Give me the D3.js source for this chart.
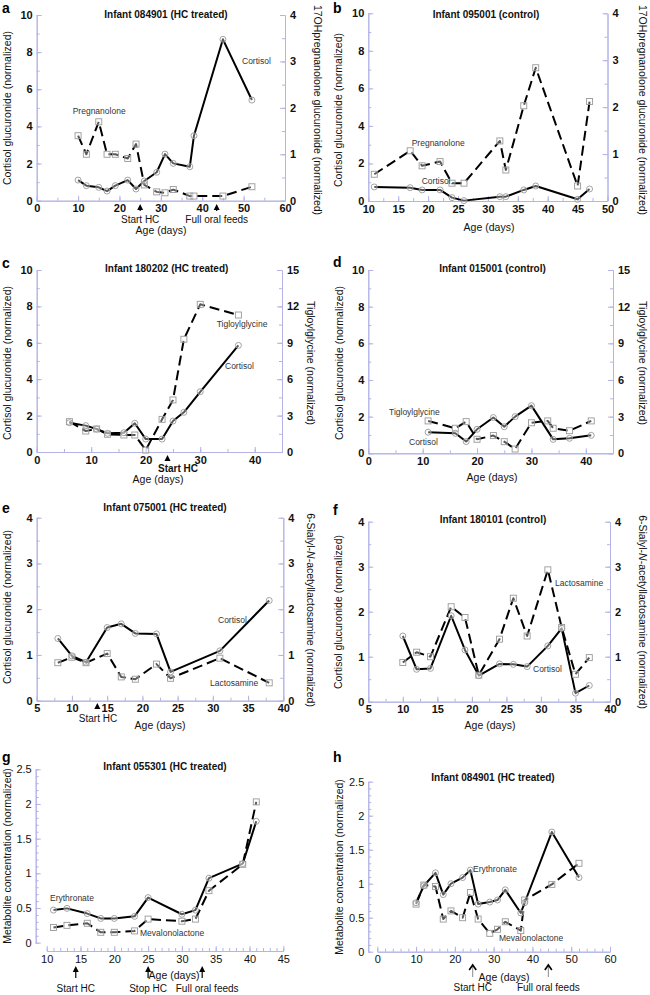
<!DOCTYPE html>
<html><head><meta charset="utf-8">
<script src="https://cdn.jsdelivr.net/npm/d3@7/dist/d3.min.js"></script>
<style>
html,body{margin:0;padding:0;background:#fff;}
svg{display:block;font-family:"Liberation Sans",Arial,Helvetica,sans-serif;}
</style></head>
<body>
<svg id="chart" width="650" height="995"></svg>
<script>
// ---------- DATA ----------
// Panel a: Infant 084901 (HC treated)
const aDays = [10,12,15,17,19,22,24,26,29,31,33,37,38,45,52];
const aCortisol = [1.11,0.81,0.72,0.52,0.81,1.11,0.63,1.06,1.53,2.51,2.01,1.83,3.50,8.69,5.42];
const aPregnanolone = [1.40,1.00,1.70,1.00,1.00,0.91,1.22,0.34,0.19,0.17,0.24,0.10,0.10,0.10,0.30];
const aEventDays = [25,43.5];
const aEventLabels = ["Start HC","Full oral feeds"];

// Panel b: Infant 095001 (control)
const bDays = [11,17,19,22,24,26,32,33,36,38,45,47];
const bCortisol = [0.75,0.71,0.59,0.59,0.18,0.02,0.23,0.23,0.59,0.80,0.09,0.64];
const bPregnanolone = [0.57,1.07,0.75,0.84,0.38,0.38,1.28,0.66,2.03,2.84,0.32,2.12];

// Panel c: Infant 180202 (HC treated)
const cDays = [6,9,11,13,16,18,20,23,25,27,30,37];
const cCortisol = [1.61,1.45,1.26,1.03,1.06,1.58,0.71,0.71,1.70,2.18,3.31,5.86];
const cTigloylglycine = [2.50,1.73,1.90,1.46,1.40,1.40,0.16,2.69,4.29,9.29,12.17,11.29];
const cEventDays = [24];
const cEventLabels = ["Start HC"];

// Panel d: Infant 015001 (control)
const dCortisolDays = [11,16,18,20,23,25,27,30,34,37,41];
const dCortisol = [1.15,1.09,0.64,1.31,1.95,1.45,2.00,2.60,0.76,0.82,0.98];
const dTigloylDays = [11,16,18,20,23,25,27,30,33,34,37,41];
const dTigloylglycine = [2.65,2.05,2.59,1.15,1.45,0.95,0.35,2.50,2.65,2.05,1.85,2.65];

// Panel e: Infant 075001 (HC treated)
const eDays = [8,10,12,15,17,19,22,24,31,38];
const eCortisol = [1.36,0.98,0.84,1.60,1.68,1.47,1.46,0.63,1.09,2.19];
const eLactosamine = [0.83,0.95,0.83,1.03,0.52,0.47,0.80,0.49,0.93,0.39];
const eEventDays = [13.6];
const eEventLabels = ["Start HC"];

// Panel f: Infant 180101 (control)
const fDays = [10,12,14,17,19,21,24,26,28,31,33,35,37];
const fCortisol = [1.46,0.72,0.74,1.91,1.15,0.58,0.84,0.83,0.78,1.24,1.63,0.19,0.36];
const fLactosamine = [0.87,1.10,1.00,2.11,1.87,0.59,1.39,2.30,1.46,2.93,1.65,0.61,0.98];

// Panel g: Infant 055301 (HC treated)
const gDays = [11,13,16,18,20,23,25,30,32,34,39,41];
const gErythronate = [0.47,0.495,0.42,0.35,0.35,0.38,0.65,0.41,0.47,0.93,1.14,1.75];
const gMevalonolactone = [0.22,0.25,0.28,0.15,0.15,0.17,0.34,0.31,0.34,0.75,1.13,2.03];
const gEventDays = [14.3,25,33];
const gEventLabels = ["Start HC","Stop HC","Full oral feeds"];

// Panel h: Infant 084901 (HC treated)
const hDays = [10,12,15,17,19,22,24,26,29,31,33,37,38,45,52];
const hErythronate = [0.72,0.97,1.16,0.84,1.00,1.09,1.20,0.70,0.73,0.76,0.91,0.57,0.72,1.76,1.09];
const hMevalonolactone = [0.70,0.98,0.96,0.48,0.60,0.50,0.87,0.48,0.27,0.33,0.44,0.31,0.76,0.99,1.30];
const hEventDays = [24.6,44.1];
const hEventLabels = ["Start HC","Full oral feeds"];

// ---------- LAYOUT ----------
const AXIS = "#b4b4e6";
const svg = d3.select("#chart");

const CORT = "Cortisol glucuronide (normalized)";
const PREG = "17OHpregnanolone glucuronide (normalized)";
const TIG = "Tigloylglycine (normalized)";
const MET = "Metabolite concentration (normalized)";

const panels = [
 {letter:"a", letterPos:[2,13], title:"Infant 084901 (HC treated)", titlePos:[166,18],
  xDomain:[0,60], xRange:[36.7,285], xMajor:10, xMinor:5,
  yDomain:[0,10], yRange:[200.7,15], yMajor:2, yMinor:1,
  yRDomain:[0,4], yRMajor:1, yRMinor:0.5,
  yLabel:CORT, yLabelPos:[7,108], yRLabel:PREG, yRLabelPos:[318,110],
  xLabelPos:[161,234], bold:true,
  series:[{days:aDays, vals:aPregnanolone, right:true, dash:true},
          {days:aDays, vals:aCortisol, right:false, dash:false}],
  labels:[{t:"Pregnanolone", p:[72.7,114]},{t:"Cortisol", p:[242,64]}],
  events:{days:aEventDays, labels:aEventLabels, tip:204, end:211, ly:222.5, dx:[0,0], style:"filled", bold:false}},
 {letter:"b", letterPos:[333,13], title:"Infant 095001 (control)", titlePos:[486,18],
  xDomain:[10,50], xRange:[368.3,607.5], xMajor:5, xMinor:2.5,
  yDomain:[0,10], yRange:[201,13.3], yMajor:2, yMinor:1,
  yRDomain:[0,4], yRMajor:1, yRMinor:0.5,
  yLabel:CORT, yLabelPos:[338,110], yRLabel:PREG, yRLabelPos:[643,110],
  xLabelPos:[489,231], bold:true,
  series:[{days:bDays, vals:bPregnanolone, right:true, dash:true},
          {days:bDays, vals:bCortisol, right:false, dash:false}],
  labels:[{t:"Pregnanolone", p:[411.7,146]},{t:"Cortisol", p:[421.7,184]}]},
 {letter:"c", letterPos:[2,268], title:"Infant 180202 (HC treated)", titlePos:[166.7,272],
  xDomain:[0,45], xRange:[36.7,282], xMajor:10, xMinor:5, xLast:40,
  yDomain:[0,10], yRange:[452,270], yMajor:2, yMinor:1,
  yRDomain:[0,15], yRMajor:3, yRMinor:1.5,
  yLabel:CORT, yLabelPos:[7,363], yRLabel:TIG, yRLabelPos:[311,363],
  xLabelPos:[158,482.5], bold:true,
  series:[{days:cDays, vals:cTigloylglycine, right:true, dash:true},
          {days:cDays, vals:cCortisol, right:false, dash:false}],
  labels:[{t:"Tigloylglycine", p:[216.7,327]},{t:"Cortisol", p:[225,369]}],
  events:{days:cEventDays, labels:cEventLabels, tip:455, end:460, ly:471.5, dx:[10.5], style:"filled", bold:true}},
 {letter:"d", letterPos:[333,267], title:"Infant 015001 (control)", titlePos:[492.5,272],
  xDomain:[0,45], xRange:[368.3,613], xMajor:10, xMinor:5, xLast:40,
  yDomain:[0,10], yRange:[453.3,270], yMajor:2, yMinor:1,
  yRDomain:[0,15], yRMajor:3, yRMinor:1.5,
  yLabel:CORT, yLabelPos:[339,363], yRLabel:TIG, yRLabelPos:[643,363],
  xLabelPos:[492,481], bold:true,
  series:[{days:dTigloylDays, vals:dTigloylglycine, right:true, dash:true},
          {days:dCortisolDays, vals:dCortisol, right:false, dash:false}],
  labels:[{t:"Tigloylglycine", p:[389,415]},{t:"Cortisol", p:[409,445]}]},
 {letter:"e", letterPos:[2,513], title:"Infant 075001 (HC treated)", titlePos:[165,511],
  xDomain:[5,40], xRange:[36.7,283.3], xMajor:5, xMinor:2.5,
  yDomain:[0,4], yRange:[700.7,517.7], yMajor:1, yMinor:0.5,
  yRDomain:[0,4], yRMajor:1, yRMinor:0.5,
  yLabel:CORT, yLabelPos:[7,607], yRLabel:"SIAL", yRLabelPos:[311,610],
  xLabelPos:[160,729], bold:true,
  series:[{days:eDays, vals:eLactosamine, right:true, dash:true},
          {days:eDays, vals:eCortisol, right:false, dash:false}],
  labels:[{t:"Cortisol", p:[218,623]},{t:"Lactosamine", p:[210,686]}],
  events:{days:eEventDays, labels:eEventLabels, tip:703, end:709, ly:722, dx:[0.7], style:"filled", bold:false}},
 {letter:"f", letterPos:[333,515], title:"Infant 180101 (control)", titlePos:[493,523],
  xDomain:[5,40], xRange:[368.3,610], xMajor:5, xMinor:2.5,
  yDomain:[0,4], yRange:[701.7,521.7], yMajor:1, yMinor:0.5,
  yRDomain:[0,4], yRMajor:1, yRMinor:0.5,
  yLabel:CORT, yLabelPos:[338,612], yRLabel:"SIAL", yRLabelPos:[643,612],
  xLabelPos:[490,729], bold:true,
  series:[{days:fDays, vals:fLactosamine, right:true, dash:true},
          {days:fDays, vals:fCortisol, right:false, dash:false}],
  labels:[{t:"Lactosamine", p:[555,586]},{t:"Cortisol", p:[533,672]}]},
 {letter:"g", letterPos:[2,762], title:"Infant 055301 (HC treated)", titlePos:[165,770],
  xDomain:[10,45], xRange:[46.7,283.3], xMajor:5, xMinor:1, xAxisY:951, yAxisX:35.7,
  yDomain:[0,2.5], yRange:[942.7,769.3], yMajor:0.5, yMinor:0.1,
  yLabel:MET, yLabelPos:[7,856],
  xLabelPos:[174,979], bold:false,
  series:[{days:gDays, vals:gMevalonolactone, right:false, dash:true},
          {days:gDays, vals:gErythronate, right:false, dash:false}],
  labels:[{t:"Erythronate", p:[50,901]},{t:"Mevalonolactone", p:[140,936]}],
  events:{days:gEventDays, labels:gEventLabels, tip:966, end:978, ly:992, dx:[0,0,5], style:"filled", bold:false}},
 {letter:"h", letterPos:[333,762], title:"Infant 084901 (HC treated)", titlePos:[493,781],
  xDomain:[0,60], xRange:[377.3,610], xMajor:10, xMinor:2, xAxisY:951.7, yAxisX:368.3,
  yDomain:[0,2.5], yRange:[951.7,781.7], yMajor:0.5, yMinor:0.1,
  yLabel:MET, yLabelPos:[339,867],
  xLabelPos:[504,981], bold:false,
  series:[{days:hDays, vals:hMevalonolactone, right:false, dash:true},
          {days:hDays, vals:hErythronate, right:false, dash:false}],
  labels:[{t:"Erythronate", p:[473,872]},{t:"Mevalonolactone", p:[499,941]}],
  events:{days:hEventDays, labels:hEventLabels, tip:965, end:977, ly:991, dx:[0,0], style:"open", bold:false}}
];

function steps(lo, hi, step){
  const n = Math.round((hi-lo)/step);
  return d3.range(n+1).map(i => +(lo + i*step).toFixed(4));
}

function styleAxis(sel, p){
  sel.attr("font-family", null).attr("font-size", null);
  sel.select(".domain").attr("stroke", AXIS).attr("stroke-width", 1);
  sel.selectAll(".tick line").attr("stroke", AXIS).attr("stroke-width", 1);
  sel.selectAll(".tick text").attr("fill", "#111")
     .attr("font-size", 11)
     .attr("font-weight", p.bold ? "bold" : "normal");
}

function drawPanel(p){
  const g = svg.append("g");
  const x = d3.scaleLinear().domain(p.xDomain).range(p.xRange);
  const y = d3.scaleLinear().domain(p.yDomain).range(p.yRange);
  const yR = p.yRDomain ? d3.scaleLinear().domain(p.yRDomain).range(p.yRange) : null;
  const xAxisY = p.xAxisY !== undefined ? p.xAxisY : p.yRange[0];
  const yAxisX = p.yAxisX !== undefined ? p.yAxisX : p.xRange[0];
  const xMaxLabel = p.xLast !== undefined ? p.xLast : p.xDomain[1];

  // minor ticks
  g.append("g").attr("transform", `translate(0,${xAxisY})`)
    .call(d3.axisBottom(x).tickValues(steps(p.xDomain[0], p.xDomain[1], p.xMinor)).tickFormat("").tickSize(-3).tickSizeOuter(0))
    .call(s => styleAxis(s, p));
  g.append("g").attr("transform", `translate(${yAxisX},0)`)
    .call(d3.axisLeft(y).tickValues(steps(p.yDomain[0], p.yDomain[1], p.yMinor)).tickFormat("").tickSize(-3).tickSizeOuter(0))
    .call(s => styleAxis(s, p));
  if (yR) {
    g.append("g").attr("transform", `translate(${p.xRange[1]},0)`)
      .call(d3.axisRight(yR).tickValues(steps(p.yRDomain[0], p.yRDomain[1], p.yRMinor)).tickFormat("").tickSize(-3).tickSizeOuter(0))
      .call(s => styleAxis(s, p));
  }
  // major ticks
  g.append("g").attr("transform", `translate(0,${xAxisY})`)
    .call(d3.axisBottom(x).tickValues(steps(p.xDomain[0], xMaxLabel, p.xMajor)).tickFormat(d3.format("d")).tickSize(-5).tickSizeOuter(0).tickPadding(4))
    .call(s => styleAxis(s, p));
  g.append("g").attr("transform", `translate(${yAxisX},0)`)
    .call(d3.axisLeft(y).tickValues(steps(p.yDomain[0], p.yDomain[1], p.yMajor)).tickFormat(d3.format("")).tickSize(-5).tickSizeOuter(0).tickPadding(4))
    .call(s => styleAxis(s, p));
  if (yR) {
    g.append("g").attr("transform", `translate(${p.xRange[1]},0)`)
      .call(d3.axisRight(yR).tickValues(steps(p.yRDomain[0], p.yRDomain[1], p.yRMajor)).tickFormat(d3.format("d")).tickSize(-5).tickSizeOuter(0).tickPadding(5))
      .call(s => styleAxis(s, p));
  }

  // series lines
  p.series.forEach(s => {
    const sc = s.right ? yR : y;
    const pts = s.days.map((d,i) => [d, s.vals[i]]);
    g.append("path").datum(pts)
      .attr("fill","none").attr("stroke","#000").attr("stroke-width",2)
      .attr("stroke-linejoin","round")
      .attr("stroke-dasharray", s.dash ? "10,5" : null)
      .attr("d", d3.line().x(d => x(d[0])).y(d => sc(d[1])));
  });
  // markers
  p.series.forEach(s => {
    const sc = s.right ? yR : y;
    const pts = s.days.map((d,i) => [d, s.vals[i]]);
    if (s.dash) {
      g.selectAll(null).data(pts).enter().append("rect")
        .attr("x", d => x(d[0]) - 3).attr("y", d => sc(d[1]) - 3)
        .attr("width", 6).attr("height", 6)
        .attr("fill","rgba(255,255,255,0.35)").attr("stroke","#999").attr("stroke-width",0.9);
    } else {
      g.selectAll(null).data(pts).enter().append("circle")
        .attr("cx", d => x(d[0])).attr("cy", d => sc(d[1])).attr("r", 3)
        .attr("fill","rgba(255,255,255,0.35)").attr("stroke","#999").attr("stroke-width",0.9);
    }
  });

  // series labels
  p.labels.forEach(l => {
    g.append("text").attr("x", l.p[0]).attr("y", l.p[1]).attr("font-size", 8.5)
      .attr("fill","#333").text(l.t);
  });

  // panel letter & title
  g.append("text").attr("x", p.letterPos[0]).attr("y", p.letterPos[1])
    .attr("font-size", 14).attr("font-weight","bold").attr("fill","#000").text(p.letter);
  g.append("text").attr("x", p.titlePos[0]).attr("y", p.titlePos[1])
    .attr("text-anchor","middle").attr("font-size",10).attr("font-weight","bold").attr("fill","#111").text(p.title);

  // axis titles
  g.append("text").attr("transform", `translate(${p.yLabelPos[0]},${p.yLabelPos[1]}) rotate(-90)`)
    .attr("text-anchor","middle").attr("dominant-baseline","central")
    .attr("font-size",10.5).attr("fill","#111").text(p.yLabel);
  if (p.yRLabel) {
    const t = g.append("text").attr("transform", `translate(${p.yRLabelPos[0]},${p.yRLabelPos[1]}) rotate(90)`)
      .attr("text-anchor","middle").attr("dominant-baseline","central")
      .attr("font-size",10.5).attr("fill","#111");
    if (p.yRLabel === "SIAL") {
      t.append("tspan").text("6-Sialyl-");
      t.append("tspan").attr("font-style","italic").text("N");
      t.append("tspan").text("-acetyllactosamine (normalized)");
    } else t.text(p.yRLabel);
  }
  g.append("text").attr("x", p.xLabelPos[0]).attr("y", p.xLabelPos[1])
    .attr("text-anchor","middle").attr("font-size",10.5).attr("fill","#111").text("Age (days)");

  // events
  if (p.events) {
    const e = p.events;
    e.days.forEach((d,i) => {
      const ax = x(d);
      if (e.style === "filled") {
        g.append("line").attr("x1",ax).attr("x2",ax).attr("y1",e.tip+4).attr("y2",e.end)
          .attr("stroke","#000").attr("stroke-width",1.2);
        g.append("path").attr("d", `M${ax},${e.tip} L${ax-3},${e.tip+6} L${ax+3},${e.tip+6} Z`).attr("fill","#000");
      } else {
        g.append("line").attr("x1",ax).attr("x2",ax).attr("y1",e.tip+1).attr("y2",e.end)
          .attr("stroke","#888").attr("stroke-width",1);
        g.append("path").attr("d", `M${ax-3.5},${e.tip+5} L${ax},${e.tip} L${ax+3.5},${e.tip+5}`)
          .attr("fill","none").attr("stroke","#000").attr("stroke-width",1.6);
      }
      g.append("text").attr("x", ax + e.dx[i]).attr("y", e.ly).attr("text-anchor","middle")
        .attr("font-size", 10).attr("font-weight", e.bold ? "bold" : "normal").attr("fill","#111")
        .text(e.labels[i]);
    });
  }
}

panels.forEach(drawPanel);
</script>
</body></html>
